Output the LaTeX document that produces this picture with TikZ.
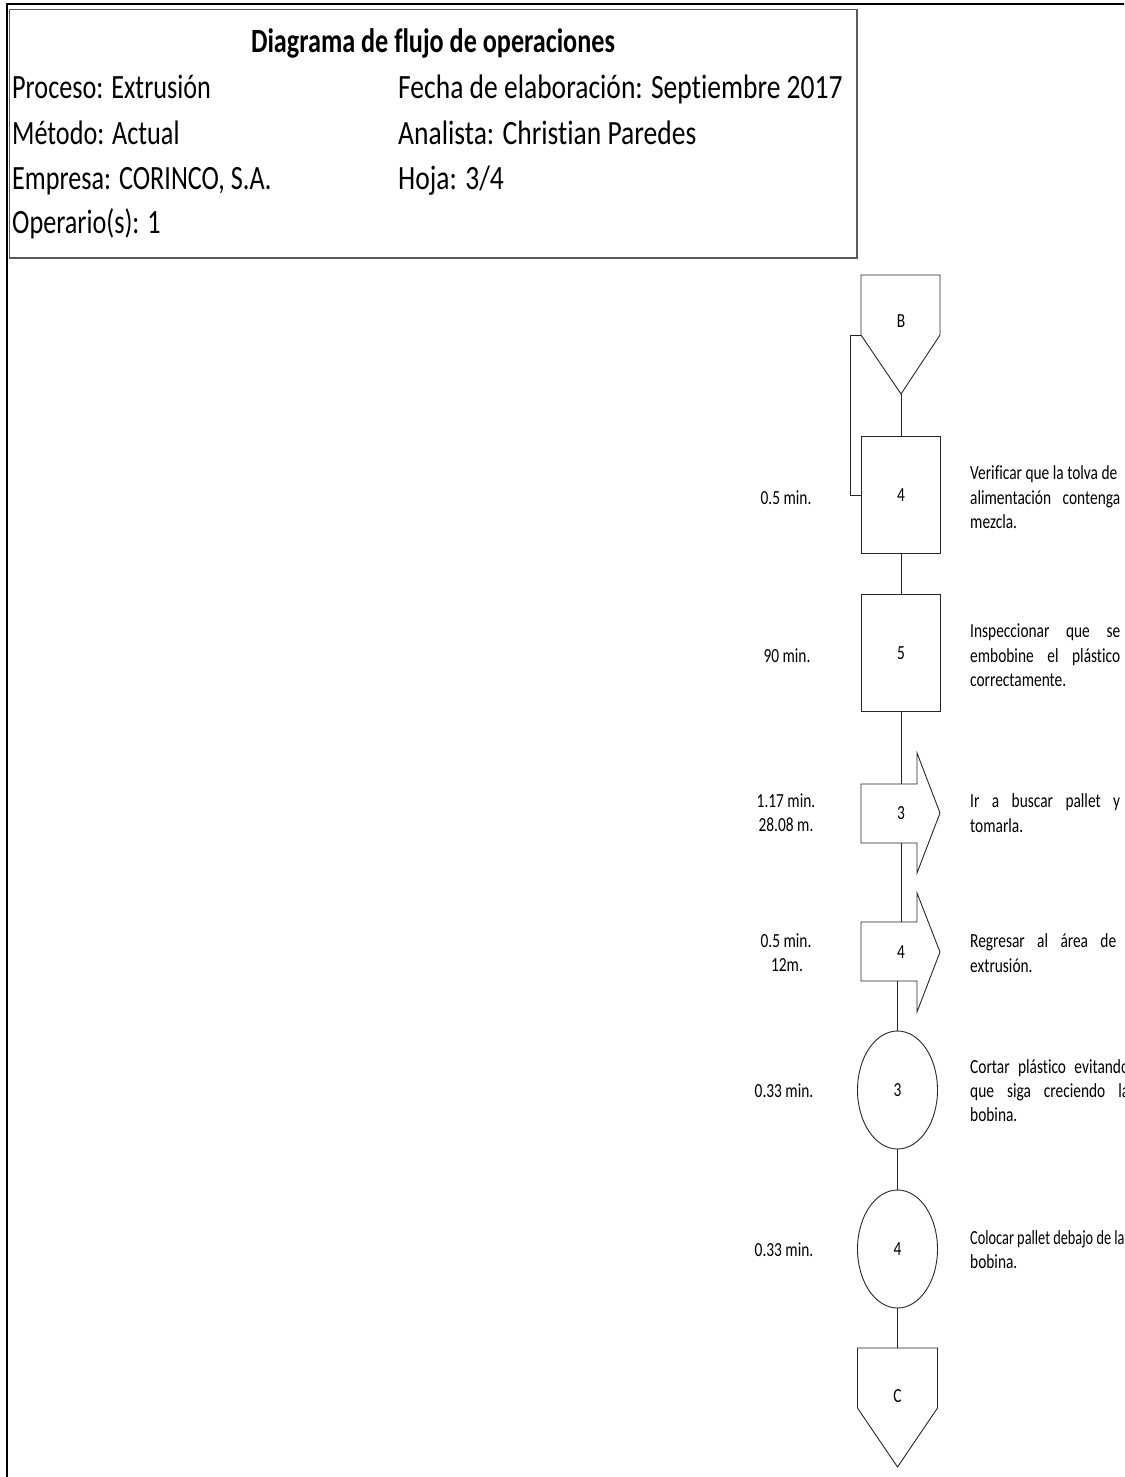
\documentclass[tikz,border=0pt]{standalone}
\usepackage{fontspec}
\usepackage{graphicx}
\setmainfont{Carlito}[FakeStretch=0.77,Ligatures=NoCommon]
\newfontfamily\widefont{Carlito}[FakeStretch=0.81,Ligatures=NoCommon]
\usetikzlibrary{shapes.geometric}
\newcommand\flowfont{\fontsize{20}{24.5}\selectfont}
\newcommand\hdrfont{\fontsize{34}{45}\selectfont}
\newcommand\jline[1]{\makebox[#1pt][s]}
\tikzset{
  flow/.style={draw=black!85, line width=0.9pt},
  opbox/.style={flow, rectangle, minimum width=79pt, minimum height=117pt, inner sep=0pt, font=\flowfont},
  opcirc/.style={flow, ellipse, minimum width=80pt, minimum height=118pt, inner sep=0pt, font=\flowfont},
  lbl/.style={font=\flowfont, inner sep=0pt},
  timelbl/.style={font=\flowfont, inner sep=0pt, anchor=base, align=center},
  desc/.style={font=\flowfont, inner sep=0pt, anchor=base west, align=left},
  hdr/.style={font=\hdrfont, inner sep=0pt, anchor=base west},
  hdrw/.style={font=\hdrfont\widefont, inner sep=0pt, anchor=base west},
}
\begin{document}
\begin{tikzpicture}[x=1pt,y=-1pt]
\useasboundingbox (0,0) rectangle (1124,1477);
\clip (0,0) rectangle (1124,1477);
% outer frame
\draw[line width=2.5pt] (7,1490) -- (7,4) -- (1140,4);
% header box
\draw[black!65, line width=1.3pt] (9.5,9.5) rectangle (857,258);
\node[font=\hdrfont\bfseries, inner sep=0pt, anchor=base] (title) at (433,53) {Diagrama de flujo de operaciones};
\node[hdr] (h1) at (12,99) {Proceso: Extrusión};
\node[hdr] (h2) at (12,144) {Método: Actual};
\node[hdr] (h3) at (12,189) {Empresa: CORINCO, S.A.};
\node[hdr] (h4) at (12,233) {Operario(s): 1};
\node[hdrw] (h5) at (398,99) {Fecha de elaboración: Septiembre 2017};
\node[hdrw] (h6) at (398,144) {Analista: Christian Paredes};
\node[hdrw] (h7) at (398,189) {Hoja: 3/4};

% connector B
\coordinate (Btip) at (901,394);
\coordinate (Bcorner) at (861,335);
\draw[flow] (861,275) -- (940,275) -- (940,335) -- (Btip) -- (Bcorner) -- cycle;
\node[lbl] (B) at (901,321) {B};

% inspections
\node[opbox] (i4) at (901,495) {4};
\node[opbox] (i5) at (901,653) {5};

% transport 3
\coordinate (t3top) at (901,784);
\coordinate (t3bot) at (901,843);
\draw[flow] (861,784) -- (917,784) -- (917,753) -- (940,813) -- (917,873) -- (917,843) -- (861,843) -- cycle;
\node[lbl] (t3) at (901,813) {3};

% transport 4
\coordinate (t4top) at (901,922);
\coordinate (t4bot) at (897.5,981);
\draw[flow] (861,922) -- (917,922) -- (917,893) -- (940,952) -- (917,1012) -- (917,981) -- (861,981) -- cycle;
\node[lbl] (t4) at (901,952) {4};

% operations
\node[opcirc] (o3) at (897.5,1090) {3};
\node[opcirc] (o4) at (897.5,1249) {4};

% connector C
\coordinate (Ctop) at (897.5,1348);
\draw[flow] (857.5,1348) -- (937.5,1348) -- (937.5,1408) -- (897.5,1467) -- (857.5,1408) -- cycle;
\node[lbl] (C) at (897.5,1396) {C};

% connectors
\draw[flow] (Btip) -- (i4.north);
\draw[flow] (Bcorner) -- (850,335) |- (i4.west);
\draw[flow] (i4.south) -- (i5.north);
\draw[flow] (i5.south) -- (t3top);
\draw[flow] (t3bot) -- (t4top);
\draw[flow] (t4bot) -- (o3.north);
\draw[flow] (o3.south) -- (o4.north);
\draw[flow] (o4.south) -- (Ctop);

% times / distances
\node[timelbl] (L1) at (786,504) {0.5 min.};
\node[timelbl] (L2) at (787,662) {90 min.};
\node[timelbl] (L3a) at (786,807) {1.17 min.};
\node[timelbl] (L3b) at (786,831) {28.08 m.};
\node[timelbl] (L4a) at (786,947) {0.5 min.};
\node[timelbl] (L4b) at (787,971) {12m.};
\node[timelbl] (L5) at (784,1097) {0.33 min.};
\node[timelbl] (L6) at (784,1256) {0.33 min.};

% descriptions
\node[desc] (D1a) at (970,479) {Verificar que la tolva de};
\node[desc] (D1b) at (970,504) {\jline{150}{alimentación contenga}};
\node[desc] (D1c) at (970,528) {mezcla.};
\node[desc] (D2a) at (970,637) {\jline{150}{Inspeccionar que se}};
\node[desc] (D2b) at (970,662) {\jline{150}{embobine el plástico}};
\node[desc] (D2c) at (970,686) {correctamente.};
\node[desc] (D3a) at (970,807) {\jline{150}{Ir a buscar pallet y}};
\node[desc] (D3b) at (970,832) {tomarla.};
\node[desc] (D4a) at (970,947) {\jline{146}{Regresar al área de}};
\node[desc] (D4b) at (970,972) {extrusión.};
\node[desc] (D5a) at (970,1073) {\jline{159}{Cortar plástico evitando}};
\node[desc] (D5b) at (970,1097) {\jline{159}{que siga creciendo la}};
\node[desc] (D5c) at (970,1121) {bobina.};
\node[desc] (D6a) at (970,1244) {\scalebox{0.93}[1]{Colocar pallet debajo de la}};
\node[desc] (D6b) at (970,1268) {bobina.};
\end{tikzpicture}
\end{document}
